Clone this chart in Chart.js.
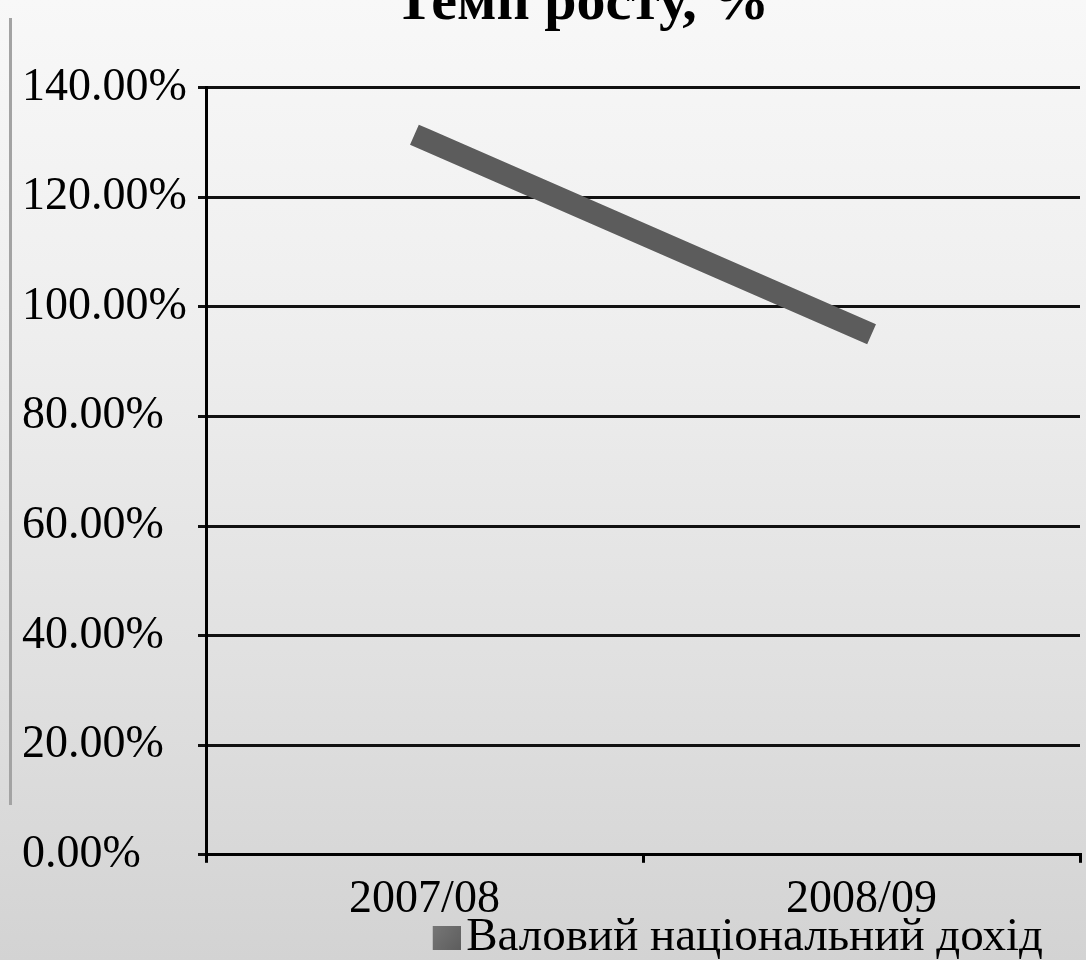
<!DOCTYPE html>
<html><head><meta charset="utf-8">
<script src="https://cdn.jsdelivr.net/npm/chart.js@4.4.1/dist/chart.umd.min.js"></script>
<style>
html,body{margin:0;padding:0;width:1086px;height:960px;overflow:hidden;}
body{background:linear-gradient(to bottom,#f8f8f8 0%,#eeeeee 35%,#e0e0e0 70%,#d3d3d3 100%);position:relative;}
#wrap{position:absolute;left:0;top:-31px;width:1086px;height:1002px;}
#side{position:absolute;left:9px;top:18px;width:3px;height:787px;background:#a3a3a3;}
</style></head><body>
<div id="side"></div>
<div id="wrap"><canvas id="c"></canvas></div>
<script>
const categories = ['2007/08', '2008/09'];
const seriesName = 'Валовий національний дохід';
const growthRate = [130.6, 95.8];
const yTickValues = [0, 20, 40, 60, 80, 100, 120, 140];
const chartTitle = 'Темп росту, %';

const serif = 'Liberation Serif';

// legend swatch: square placed close to the label text
const swatch = document.createElement('canvas');
swatch.width = 44; swatch.height = 24;
(function () {
  const g = swatch.getContext('2d');
  const grad = g.createLinearGradient(16, 0, 44, 24);
  grad.addColorStop(0, '#777777');
  grad.addColorStop(1, '#5e5e5e');
  g.fillStyle = grad;
  g.fillRect(16, 0, 28, 24);
})();

const shiftPlugin = {
  id: 'shiftBoxes',
  afterLayout(chart) {
    const t = chart.titleBlock;
    if (t) { t.left += 31; t.right += 31; }
    const l = chart.legend;
    if (l) { l.left -= 37; l.right -= 37; }
  }
};

new Chart(document.getElementById('c'), {
  type: 'line',
  data: {
    labels: categories,
    datasets: [{
      label: seriesName,
      data: growthRate,
      borderColor: '#5c5c5c',
      backgroundColor: '#6b6b6b',
      borderWidth: 22,
      borderCapStyle: 'square',
      pointRadius: 0,
      tension: 0
    }]
  },
  options: {
    responsive: true,
    maintainAspectRatio: false,
    animation: false,
    devicePixelRatio: 1,
    layout: { padding: { left: 22, right: 6, top: 0, bottom: 0 } },
    plugins: {
      title: {
        display: true,
        text: chartTitle,
        color: '#000',
        font: { family: serif, size: 58, weight: 'bold' },
        padding: { top: 0, bottom: 49 }
      },
      legend: {
        position: 'bottom',
        align: 'end',
        labels: {
          color: '#000',
          font: { family: serif, size: 47 },
          usePointStyle: true,
          pointStyleWidth: 8,
          boxHeight: 24,
          padding: 0,
          generateLabels(chart) {
            const items = Chart.defaults.plugins.legend.labels.generateLabels(chart);
            items.forEach(i => { i.lineWidth = 0; i.pointStyle = swatch; i.fillStyle = '#6b6b6b'; i.strokeStyle = '#6b6b6b'; });
            return items;
          }
        }
      },
      tooltip: { enabled: false }
    },
    scales: {
      x: {
        type: 'category',
        offset: true,
        afterFit(s) { s.height = s.height - 24; },
        grid: { offset: true, drawOnChartArea: false, drawTicks: true, tickLength: 8, color: '#000', lineWidth: 3 },
        border: { color: '#000', width: 3 },
        ticks: { color: '#000', font: { family: serif, size: 46 }, padding: 10 }
      },
      y: {
        min: 0,
        max: 140,
        afterBuildTicks(scale) { scale.ticks = yTickValues.map(v => ({ value: v })); },
        afterFit(s) { s.width = 184; },
        ticks: {
          color: '#000',
          font: { family: serif, size: 46 },
          padding: 5,
          crossAlign: 'far',
          callback: v => v.toFixed(2) + '%'
        },
        grid: { color: '#111', lineWidth: 3, tickLength: 8, drawTicks: true },
        border: { color: '#000', width: 3 }
      }
    }
  },
  plugins: [shiftPlugin]
});
</script>
</body></html>
